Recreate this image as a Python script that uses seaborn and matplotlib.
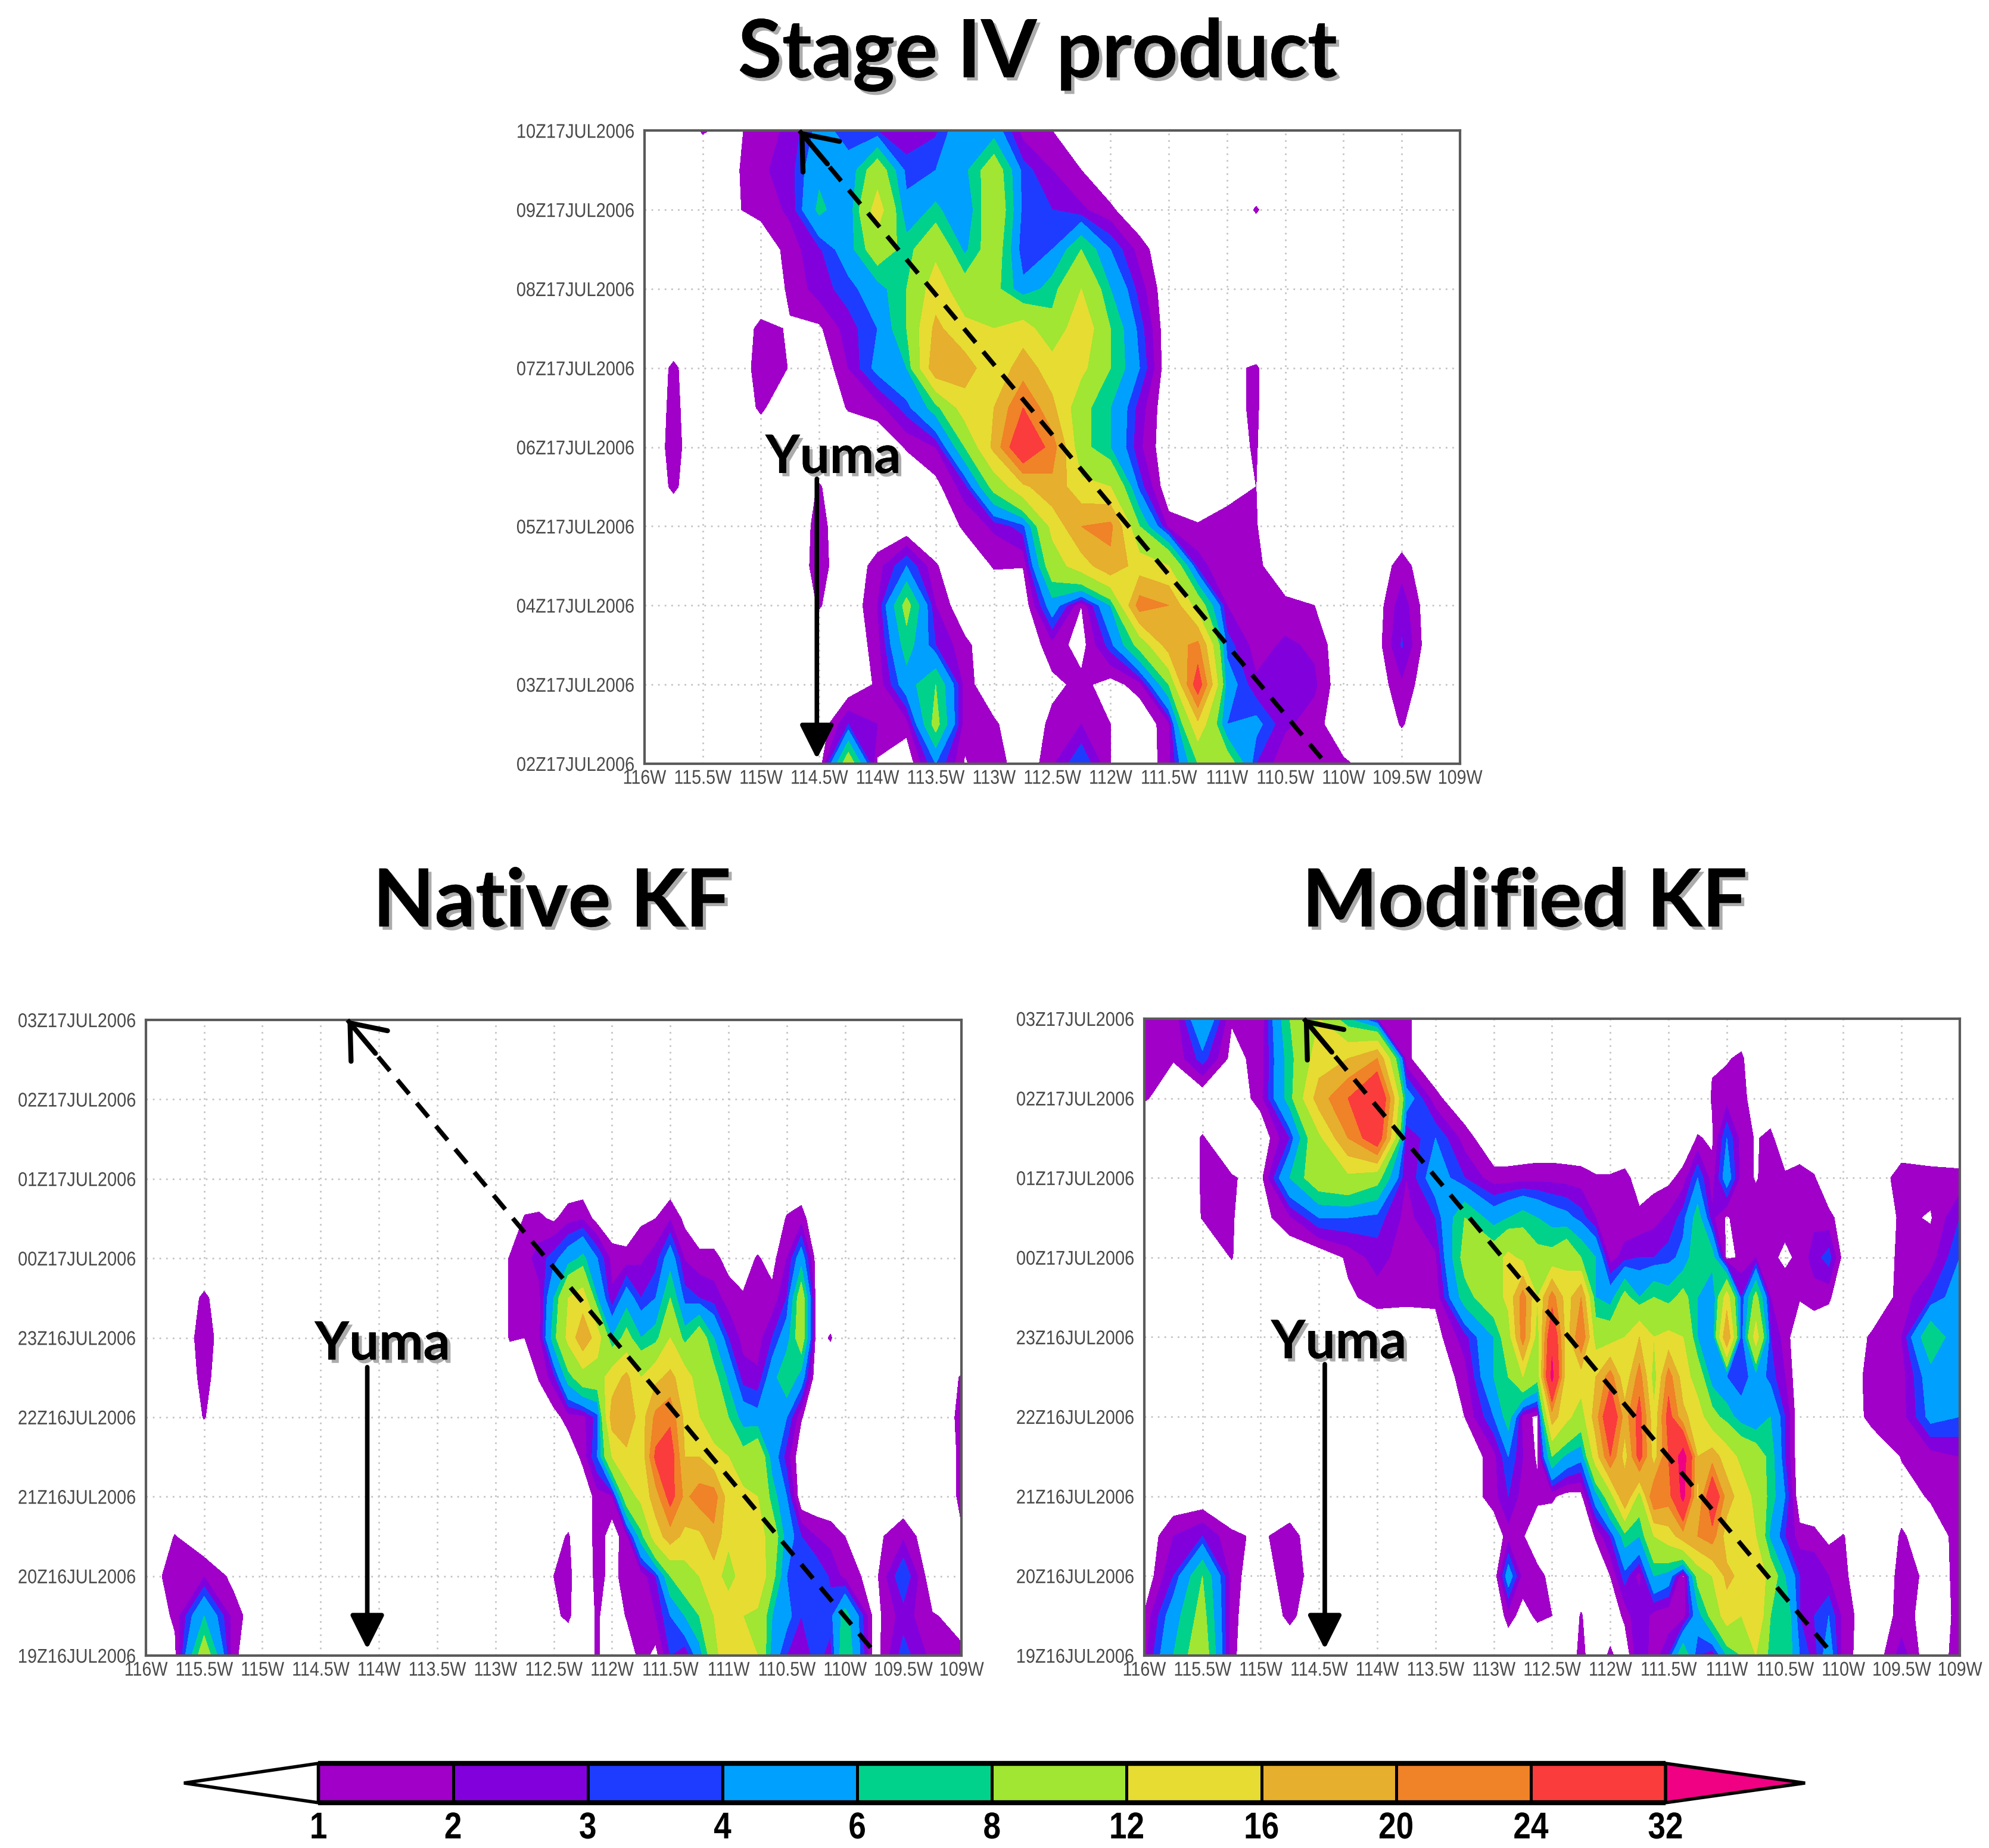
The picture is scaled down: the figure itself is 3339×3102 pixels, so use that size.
import numpy as np
import matplotlib
matplotlib.use("Agg")
import matplotlib.pyplot as plt
from matplotlib.colors import ListedColormap, BoundaryNorm
from matplotlib.patches import Polygon
from matplotlib.transforms import Affine2D
import matplotlib.patheffects as pe
import seaborn as sns

sns.set_theme(style="white")
TITLE = ['Lato', 'Open Sans', 'DejaVu Sans']
plt.rcParams['font.family'] = ['Liberation Sans', 'DejaVu Sans']

levels = [1, 2, 3, 4, 6, 8, 12, 16, 20, 24, 32]
band_colors = ['#A000C8', '#8200DC', '#1E3CFF', '#00A0FF', '#00D28C', '#A0E632',
               '#E6DC32', '#E6AF2D', '#F08228', '#FA3C3C']
over_color = '#F00082'

lon_labels = ['116W', '115.5W', '115W', '114.5W', '114W', '113.5W', '113W', '112.5W',
              '112W', '111.5W', '111W', '110.5W', '110W', '109.5W', '109W']
stage_times = ['02Z17JUL2006', '03Z17JUL2006', '04Z17JUL2006', '05Z17JUL2006', '06Z17JUL2006',
               '07Z17JUL2006', '08Z17JUL2006', '09Z17JUL2006', '10Z17JUL2006']
model_times = ['19Z16JUL2006', '20Z16JUL2006', '21Z16JUL2006', '22Z16JUL2006', '23Z16JUL2006',
               '00Z17JUL2006', '01Z17JUL2006', '02Z17JUL2006', '03Z17JUL2006']

# longitudes of the columns in each table
stage_lon = [-116, -115.75, -115.5, -115.25, -115, -114.75, -114.5, -114.25, -114, -113.75, -113.5,
             -113.25, -113, -112.75, -112.5, -112.25, -112, -111.75, -111.5, -111.25, -111, -110.75,
             -110.5, -110.25, -110, -109.75, -109.5, -109.25, -109]
model_lon = [-116, -115.75, -115.5, -115.25, -115, -114.75, -114.5, -114.25, -114, -113.75, -113.5,
             -113.25, -113, -112.875, -112.75, -112.625, -112.5, -112.375, -112.25, -112.125, -112,
             -111.875, -111.75, -111.625, -111.5, -111.375, -111.25, -111.125, -111, -110.875, -110.75,
             -110.625, -110.5, -110.375, -110.25, -110.125, -110, -109.75, -109.5, -109.25, -109]

# rain rate, rows run from the top of the panel down, half an hour apart; short rows end in zeros
stage_rain = [
 [0,0,1.1,0.6,1.6,2.2,4.5,3.5,3,2.2,2.8,5.5,5,1.5,1],
 [0,0,0,0.7,1.8,2.5,5.5,4.5,10,3.5,4,5.5,10,3.5,2,1],
 [0,0,0,0.8,1.4,2.2,6.5,4.5,14,4.5,6.5,4,11,3.5,3,2.2,1.2,0,0,0,0,1.1],
 [0,0,0,0,0,1.5,2.8,5,10,7,11,5.5,10,3,4,8,4,1.5],
 [0,0,0,0,0,1.2,2.5,3.5,5,8,14,9.5,9,4.5,7,12,6,2.5],
 [0,0,0,0,1.3,0.9,0.8,2.5,4,8,17,13,12,14,9,15,8,3.5],
 [0,1.2,0,0,1.5,0.95,0,2,4.5,6,19,18,13,18,14,13,8,4,0,0,0.8,1.1],
 [0,1.3,0,0,1.2,0,0,1.1,1.5,3.5,7,14,16,24,17,9,6,2.5,0,0,0.8,1.1],
 [0,1.4,0,0,0,0,0,0,0,1.1,2,8,17,30,22,9,6,2.2,0,0,0.8,1.05],
 [0,1.2,0,0,0,0,1.1,0,0,0,0.6,2.5,9,15,19,13,12,3.5,0,0,0.8,1],
 [0,0,0,0,0,0,1.4,0,0,0,0,1.2,2.2,3.5,13,20,21,8,1.6,1.1,1.2,1.05],
 [0,0,0,0,0,0,1.5,0,1.5,4,1.1,0,1.1,1.05,10,14,19,14,12,2.5,1,1.3,0,0,0,0,1.5],
 [0,0,0,0,0,0,1.1,0,2,9,2,0,0,0,5,1,6,22,20,10,2,1.6,1.3,1,0,0,2.6],
 [0,0,0,0,0,0,0,0,1.5,7,3,1.3,0,0,1.6,0.5,3.5,9,18,21,3.5,1.5,2.2,1.8,0,0,3.1],
 [0,0,0,0,0,0,0,0,1.2,5,8,1.5,0,0,0.7,1.3,0.5,1.5,8,27,5,2.2,2.5,2.2,0,0,1.8],
 [0,0,0,0,0,0,0,3,2,1.5,9,1.3,1.2,0,1.3,2,1,0,1.7,15,4,4.5,2.2,1.5,0,0,1.1],
 [0,0,0,0,0,0,0,10,0.8,0,4,0.9,1.8,0,1.8,4,1,0,1.6,8,10,3,1.2,1.1,1.2,0.5],
]

native_rain = [
 [0],
 [0],
 [0],
 [0],
 [0],
 [0,0,0,0,0,0,0,0,0,0,0,0,0,0,1.1,1.2,0.8,1.6,1.9,0.5,0,0,0.8,1,1.9,0.7,0,0,0,0,0,0,1.1,1.5],
 [0,0,0,0,0,0,0,0,0,0,0,0,0,1.1,1.5,2.5,3.5,5,6.5,4,1.6,1.4,1.8,2.5,5,1.9,1.3,1.3,0.6,0.5,1.1,0.6,2,5,0.5],
 [0,0,1.2,0,0,0,0,0,0,0,0,0,0,1.1,1.5,1.6,6,12,14,6,2.2,5,3,4,8,3.5,3,2.5,1.5,1.1,1.5,1.3,3,10,0.5],
 [0,0,1.5,0,0,0,0,0,0,0,0,0,0,1.1,1,1.6,7,13,19,14,6,9,6,7,12,7,10,6,3,1.6,1.5,3,5,10,0.5,1.1],
 [0,0,1.3,0,0,0,0,0,0,0,0,0,0,0,0,1.1,2.5,7,10,10,14,17,12,15,17,14,10,9,5.5,2.5,2.2,5,8,5,0,0,0,0,0,0,1.1],
 [0,0,1.05,0,0,0,0,0,0,0,0,0,0,0,0,0,0.5,1.5,1.6,3.5,18,19,14,21,23,15,12,10,8,5,4.5,5.5,4,1.1,0,0,0,0,0,0,1.3],
 [0,0,0,0,0,0,0,0,0,0,0,0,0,0,0,0,0,0,1.3,4,12,15,13,25,27,16,16,13,12,9,11,5,2.5,0,0,0,0,0,0,0,1.2],
 [0,0,0,0,0,0,0,0,0,0,0,0,0,0,0,0,0,0,0,1.5,1.6,10,13,18,26,19,22,22,14,13,12,7,4,0,0,0,0,0,0,0,1.2],
 [0,1.05,0,0,0,0,0,0,0,0,0,0,0,0,0,0,0.6,1.1,0,1.5,0.5,1.5,7,14,18,15,15,19,13,14,14,10,5,3,2,1.6,1,0.6,1.8,0,0.9],
 [0,1.8,1.9,0.7,0,0,0,0,0,0,0,0,0,0,0,0,1,1.3,0,1.4,0.6,1.5,1.3,3,8,10,12,14,10,14,16,9,4,3.5,4,2.8,1.6,0.5,4],
 [0,1.2,6,1.5,0,0,0,0,0,0,0,0,0,0,0,0,0.8,1.2,0,1.2,0,1.1,1.4,2,4,6,8,12,15,12,11,6,4.5,3,4,3.5,7,0.5,2.5,1.1,0.6],
 [0,0.7,10,1.2,0,0,0,0,0,0,0,0,0,0,0,0,0,0,0,1.2,0,0,1.5,0.6,3,2,5,10,16,14,12,5,3,2,3.5,2.5,8,0.3,3.5,1.6,1.2],
]

modified_rain = [
 [1.6,1.05,6,1.1,1.2,8,12,6,2,1.2],
 [1.8,1.05,3.5,0.6,1.4,7,14,16,20,1.2,0,0,0,0,0,0,0,0,0,0,0,0,0,0,0,0,0,0.9,0.9,1.2],
 [1.1,0.5,0,0,1.5,7,18,24,32,5,1.3,0,0,0,0,0,0,0,0,0,0,0,0,0,0,0,0,1.1,1.5,1.6],
 [0,0,1.1,0,0,3,11,20,28,2,4,1.5,0,0,0,0,0,0,0,0,0,0,0,0,0,0,1.1,0.8,4,1.5,0.9,1.3],
 [0,0,1.1,1.1,0.6,6,10,11,9,2,5,3,1.4,1.4,1.5,1.6,1.6,1.5,1.4,1.1,1.1,1.3,0.5,0.6,0.7,1.4,4,1.4,5,1.5,0.9,1.5,1.2,1.5,1.1,0,0,0,1.6,1.4,1.3],
 [0,0,1.05,1.05,0.5,1.8,4,4,3.5,1.6,3,8,5,6,7,6,5,4.5,3.5,2,1.2,1.2,1.2,1.6,2.2,3.5,7,2.2,0.8,1.8,1.6,1.5,1.3,1.5,1.7,1.3,0.5,0,1.2,0.9,3],
 [0,0,0,1.05,0,0,0,1.2,2.5,1.3,1.8,9,10,13,11,9,9,11,8,6,1.5,2.5,3,3,3.5,4.5,8,7,0.5,1.3,2,1.2,0.8,1.2,2.5,3.5,0.5,0,1.3,1.5,4],
 [0,0,0,0,0,0,0,0.8,1.4,1.3,1.2,7,10,13,22,12,22,14,20,6,5,9,6,8,7,9,6,4,14,3,9,2,1.5,1.1,1.5,1.2,0,0,1.4,3,5],
 [0,0,0,0,0,0,0,0,0,0,0.5,2.5,6,10,22,10,30,14,24,10,10,12,16,12,13,12,6,4,20,3,14,3,1.5,0,0,0,0,1.2,2,8,4],
 [0,0,0,0,0,0,0,0,0,0,0,1.5,6,8,12,9,34,13,14,16,22,13,22,10,22,14,10,5,4,3,5,3.5,2,0,0,0,0,1.5,1.5,5,5],
 [0,0,0,0,0,0,0,0,0,0,0,1,4,7,1.5,0.7,18,13,10,18,30,18,26,13,26,17,14,9,7,5,4,6,3,0,0,0,0,1.4,1.5,4.5,4],
 [0,0,0,0,0,0,0,0,0,0,0,0,1.6,4,2,0.8,8,5.5,4.5,14,24,14,26,14,24,36,16,18,14,11,10,7,3,0,0,0,0,0,1.05,1.5,2],
 [0,0,0,0,0,0,0,0,0,0,0,0,1.6,3,1.5,1.3,1.2,0.5,0.6,5,10,20,10,24,22,34,15,30,18,14,11,7,4,0,0,0,0,0,0.6,1.1,1.4],
 [0,2,3,1.2,0.8,1.5,0,0,0,0,0,0,0,1.5,1.1,0,0,0,0,1.1,3,7,6,12,14,18,20,22,14,15,12,5.5,3,1.5,1.3,0.7,1.05,0,1.1,0.5,1.3],
 [0,3,8,1.5,0,1.9,0,0,0,0,0,0,0,5,1.5,1.4,0.6,0,0,0,1,3.5,1.5,6,5,0.8,9,12,17,15,16,10,6,3,3,2,1.2,0,1.3,0.8,1.1],
 [1.1,5,9,1.3,0,1.3,0,0,0,0,0,0,0,1.4,0.6,1.2,1,0,1.1,0,0,1.3,3,1.5,1.1,1.4,5,9,14,12,16,8,8,3,3,4,1.6,0,1.4,0.5,1.2],
 [1.6,6,10,1.2,0,0,0,0,0,0,0,0,0,0,0,0,0,0,1.4,0,1.3,0,3,1.3,3,8,3,2,6,8,12,7,8,4,2.5,5,1.5,0,2.5,0,1.6],
]


class Squeeze(pe.AbstractPathEffect):
    """Draw a text narrower than its font, holding one end or the centre still."""

    def __init__(self, sx, anchor='center'):
        super().__init__()
        self.sx, self.anchor = sx, anchor

    def draw_path(self, renderer, gc, tpath, affine, rgbFace=None):
        b = tpath.get_extents()
        x = {'center': (b.x0 + b.x1) / 2, 'right': b.x1, 'left': b.x0}[self.anchor]
        renderer.draw_path(gc, tpath, Affine2D().translate(-x, 0).scale(self.sx, 1).translate(x, 0) + affine, rgbFace)


PAL = sns.color_palette(band_colors)
cmap = ListedColormap(PAL)
cmap.set_over(over_color)
norm = BoundaryNorm(levels, cmap.N)
W, H = 3339, 3102
S = W / 1568


def table(rows, lon):
    return np.array([list(r) + [0] * (len(lon) - len(r)) for r in rows], dtype=float)


def panel(box, lon, rows, times, title, title_xy, dashed, yuma, yuma_text):
    x0, y0, x1, y1 = [v * S for v in box]
    ax = fig.add_axes([x0 / W, 1 - y1 / H, (x1 - x0) / W, (y1 - y0) / H])
    z = table(rows, lon)
    t = 8 - 0.5 * np.arange(z.shape[0])
    ax.contourf(lon, t, z, levels=levels, cmap=cmap, norm=norm, extend='max')
    ax.set_xlim(-116, -109)
    ax.set_ylim(0, 8)
    ax.set_xticks(np.arange(-116, -108.9, 0.5))
    ax.set_xticklabels(lon_labels)
    ax.set_yticks(np.arange(0, 9))
    ax.set_yticklabels(times)
    ax.set_axisbelow(True)
    ax.grid(True, ls=(0, (1, 3)), color='#c4c4c4', lw=2)
    ax.tick_params(length=5, width=1.5, color='#666666', labelsize=24, labelcolor='#4a4a4a', pad=7)
    ax.tick_params(axis='x', pad=2)
    for lab in ax.get_xticklabels():
        lab.set_path_effects([Squeeze(0.86, 'center')])
    for lab in ax.get_yticklabels():
        lab.set_path_effects([Squeeze(0.87, 'right')])
    for s in ax.spines.values():
        s.set_visible(True)
        s.set_color('#5a5a5a')
        s.set_linewidth(3)
    # dashed trend line with an open head
    (xa, ya), (xb, yb) = dashed
    ax.plot([xa, xb], [ya, yb], color='black', lw=5.5, ls=(0, (4, 2.6)), clip_on=False, zorder=6)
    ax.annotate('', xy=(xb, yb), xytext=(xb + 0.24, yb - 0.42), zorder=7, annotation_clip=False,
                arrowprops=dict(arrowstyle='->,head_length=1.45,head_width=1.15', lw=6, color='black',
                                shrinkA=0, shrinkB=0, mutation_scale=25))
    # Yuma arrow
    ax.annotate('', xy=(yuma[0], yuma[2]), xytext=(yuma[0], yuma[1]), zorder=7, annotation_clip=False,
                arrowprops=dict(arrowstyle='-|>,head_length=1.4,head_width=0.7', lw=5.5, color='black',
                                shrinkA=0, shrinkB=0, mutation_scale=25))
    shadow = [pe.withSimplePatchShadow(offset=(4, -4), shadow_rgbFace='#666666', alpha=0.55), pe.Normal()]
    ax.text(yuma_text[0], yuma_text[1], 'Yuma', family=TITLE, weight='bold', fontsize=64, color='black',
            ha='center', va='center', zorder=8, path_effects=shadow)
    fig.text(title_xy[0] * S / W, 1 - title_xy[1] * S / H, title, family=TITLE, weight='bold',
             fontsize=97, color='black', ha='center', va='center', path_effects=shadow)
    return ax


fig = plt.figure(figsize=(W / 100, H / 100), dpi=100, facecolor='white')

panel((508, 103, 1151, 602), stage_lon, stage_rain, stage_times, 'Stage IV product', (818, 43),
      ((-110.19, 0.07), (-114.67, 8)), (-114.52, 3.6, 0.06), (-114.38, 3.87))
panel((115, 804, 758, 1305), model_lon, native_rain, model_times, 'Native KF', (435, 712),
      ((-109.78, 0.1), (-114.27, 8)), (-114.10, 3.63, 0.08), (-113.97, 3.92))
panel((902, 803, 1545, 1305), model_lon, modified_rain, model_times, 'Modified KF', (1202, 712),
      ((-110.14, 0.1), (-114.63, 8)), (-114.45, 3.66, 0.08), (-114.33, 3.93))

# colour key
cx0, cx1, cy0, cy1 = 251 * S, 1313 * S, 1390 * S, 1421 * S
cax = fig.add_axes([cx0 / W, 1 - cy1 / H, (cx1 - cx0) / W, (cy1 - cy0) / H])
key = np.arange(len(band_colors)).reshape(1, -1)
sns.heatmap(key, ax=cax, cmap=ListedColormap(PAL), cbar=False, linewidths=2.5, linecolor='black',
            xticklabels=False, yticklabels=False)
n = len(band_colors)
cell = (cx1 - cx0) / n
tip_l = (251 - 145) * S / cell
tip_r = (1423 - 1313) * S / cell
cax.add_patch(Polygon([[0, 0], [-tip_l, 0.5], [0, 1]], closed=True, fc='white', ec='black', lw=4, clip_on=False))
cax.add_patch(Polygon([[n, 0], [n + tip_r, 0.5], [n, 1]], closed=True, fc=over_color, ec='black', lw=4, clip_on=False))
cax.plot([0, n], [0, 0], color='black', lw=6, clip_on=False, solid_capstyle='butt')
cax.plot([0, n], [1, 1], color='black', lw=6, clip_on=False, solid_capstyle='butt')
cax.set_xticks(np.arange(n + 1))
cax.set_xticklabels([str(v) for v in levels], fontsize=45, weight='bold', color='black')
for lab in cax.get_xticklabels():
    lab.set_path_effects([Squeeze(0.85, 'center')])
cax.tick_params(axis='x', length=0, pad=10, bottom=True)
cax.set_xlim(0, n)

fig.savefig('out.png', dpi=100, facecolor='white')
